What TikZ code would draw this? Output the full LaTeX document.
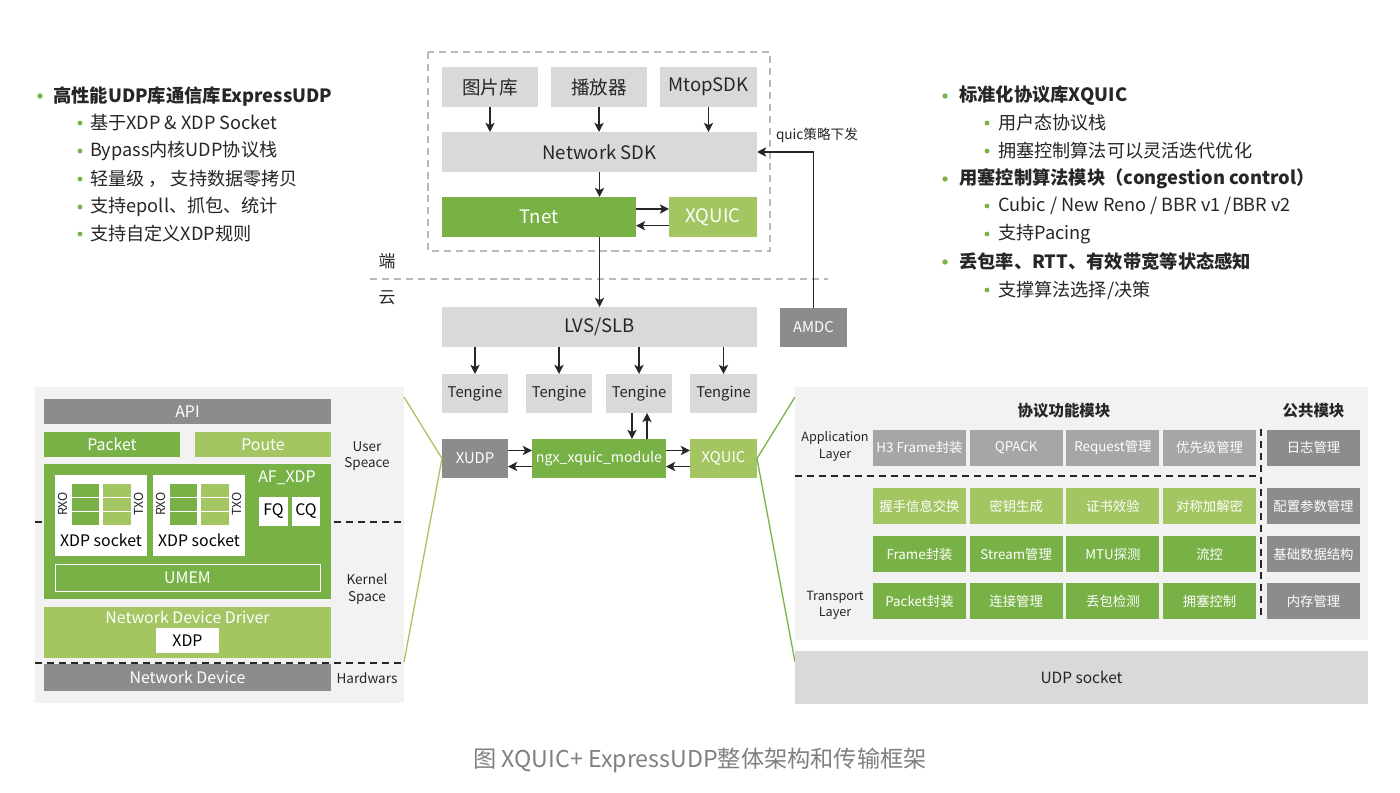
\documentclass[tikz,border=0pt]{standalone}
\usepackage{fontspec}
\setmainfont{Noto Sans CJK SC}
\usetikzlibrary{arrows.meta, positioning, calc}
\definecolor{boxgray}{HTML}{D9D9D9}
\definecolor{graydk}{HTML}{8C8C8C}
\definecolor{graymd}{HTML}{A6A6A6}
\definecolor{panelbg}{HTML}{F2F2F2}
\definecolor{xgreen}{HTML}{78B145}
\definecolor{xgreenlt}{HTML}{A3C662}
\definecolor{txtdark}{HTML}{262626}
\definecolor{capgray}{HTML}{808080}
\tikzset{
  cell/.style={
    rectangle, inner sep=0pt, outer sep=0pt,
    text centered, fill=#1, text=txtdark
  },
  sz/.style 2 args={minimum width=#1*0.025cm, minimum height=#2*0.025cm},
  bigtxt/.style={font=\fontsize{13.2}{15}\selectfont},
  midtxt/.style={font=\fontsize{10.5}{12}\selectfont},
  paneltxt/.style={font=\fontsize{11.3}{13}\selectfont},
  celltxt/.style={font=\fontsize{9.5}{11}\selectfont, text=white},
  sidetxt/.style={font=\fontsize{9.6}{11.8}\selectfont, text=txtdark, align=center},
  arr/.style={-{Stealth[length=6.5pt, width=6.5pt, inset=1.6pt]},
    line width=1.1pt, draw=txtdark},
  blackdash/.style={line width=1pt, draw=txtdark, dash pattern=on 5pt off 3.5pt},
  graydash/.style={line width=0.8pt, draw=black!28, dash pattern=on 5pt off 3.5pt},
  mainitem/.style={anchor=west, inner sep=0pt, text=txtdark,
    font=\bfseries\fontsize{13}{16}\selectfont},
  subitem/.style={anchor=west, inner sep=0pt, text=txtdark,
    font=\fontsize{12.9}{15}\selectfont},
}

\begin{document}
\begin{tikzpicture}[x=0.025cm, y=-0.025cm]
  \useasboundingbox[fill=white] (0,0) rectangle (1400,793);

  % bullet texts, left
  \node[mainitem] (l0) at (53,96) {高性能UDP库通信库ExpressUDP};
  \node[subitem] (l1) at (90,123) {基于XDP \& XDP Socket};
  \node[subitem] (l2) at (90,151) {Bypass内核UDP协议栈};
  \node[subitem] (l3) at (90,179) {轻量级 ， 支持数据零拷贝};
  \node[subitem] (l4) at (90,207) {支持epoll、抓包、统计};
  \node[subitem] (l5) at (90,234) {支持自定义XDP规则};
  \fill[xgreen] (40,96) circle (1.9pt);
  \foreach \yy in {123,151,179,207,234}
    \fill[xgreen] (80,\yy) circle (1.7pt);

  % bullet texts, right
  \node[mainitem] (r0) at (959,96) {标准化协议库XQUIC};
  \node[subitem] (r1) at (998,123) {用户态协议栈};
  \node[subitem] (r2) at (998,151) {拥塞控制算法可以灵活迭代优化};
  \node[mainitem] (r3) at (959,179) {用塞控制算法模块（congestion control）};
  \node[subitem] (r4) at (998,206) {Cubic / New Reno / BBR v1 /BBR v2};
  \node[subitem] (r5) at (998,234) {支持Pacing};
  \node[mainitem] (r6) at (959,262) {丢包率、RTT、有效带宽等状态感知};
  \node[subitem] (r7) at (998,290) {支撑算法选择/决策};
  \foreach \yy in {96,179,262}
    \fill[xgreen] (945,\yy) circle (1.9pt);
  \foreach \yy in {123,151,206,234,290}
    \fill[xgreen] (987,\yy) circle (1.7pt);

  % client
  \draw[graydash] (428,52) rectangle (770,251);
  \node[cell=boxgray, sz={96}{40}, bigtxt] (tuku) at (490,87) {图片库};
  \node[cell=boxgray, sz={96}{40}, bigtxt] (player) at (599,87) {播放器};
  \node[cell=boxgray, sz={97}{40}, bigtxt] (mtop) at (708.5,87) {MtopSDK};
  \node[cell=boxgray, sz={315}{40}, bigtxt] (netsdk) at (599.5,152) {Network SDK};
  \node[cell=xgreen, sz={194}{40}, bigtxt, text=white] (tnet) at (539,217) {Tnet};
  \node[cell=xgreenlt, sz={88}{40}, bigtxt, text=white] (cxq) at (713,217) {XQUIC};
  \foreach \n in {tuku, player, mtop}
    \draw[arr] (\n.south) -- (\n.south |- netsdk.north);
  \draw[arr] (netsdk.south) -- (netsdk.south |- tnet.north);
  \draw[arr] ([yshift=5.7pt]tnet.east) -- ([yshift=5.7pt]cxq.west);
  \draw[arr] ([yshift=-6.2pt]cxq.west) -- ([yshift=-6.2pt]tnet.east);

  % client / cloud border
  \draw[graydash] (370,279) -- (828,279);
  \node[font=\fontsize{12}{14}\selectfont, text=txtdark] (duan) at (387,261) {端};
  \node[font=\fontsize{12}{14}\selectfont, text=txtdark] (yun) at (387,298) {云};

  % cloud
  \node[cell=boxgray, sz={315}{40}, bigtxt] (lvs) at (599.5,327) {LVS/SLB};
  \node[cell=graydk, sz={67}{39}, midtxt, text=white] (amdc) at (813.5,327.5) {AMDC};
  \draw[arr] (tnet.south -| lvs.north) -- (lvs.north);
  \draw[arr] (amdc.north) |- (netsdk.east);
  \node[font=\fontsize{9.7}{11}\selectfont, text=txtdark] (policy) at (817,135) {quic策略下发};

  \node[cell=boxgray, sz={66}{39}, midtxt] (teng1) at (475,393.5) {Tengine};
  \node[cell=boxgray, sz={66}{39}, midtxt] (teng2) at (559,393.5) {Tengine};
  \node[cell=boxgray, sz={66}{39}, midtxt] (teng3) at (639,393.5) {Tengine};
  \node[cell=boxgray, sz={67}{39}, midtxt] (teng4) at (723.5,393.5) {Tengine};
  \foreach \n in {teng1, teng2, teng3, teng4}
    \draw[arr] (\n.north |- lvs.south) -- (\n.north);

  \node[cell=graydk, sz={66}{39}, midtxt, text=white] (xudp) at (475,458.5) {XUDP};
  \node[cell=xgreen, sz={134}{39}, font=\fontsize{10.1}{12}\selectfont, text=white] (ngx) at (599,458.5) {ngx\_xquic\_module};
  \node[cell=xgreenlt, sz={67}{39}, midtxt, text=white] (sxq) at (723.5,458.5) {XQUIC};
  \draw[arr] ([yshift=5.7pt]xudp.east) -- ([yshift=5.7pt]ngx.west);
  \draw[arr] ([yshift=-5.7pt]ngx.west) -- ([yshift=-5.7pt]xudp.east);
  \draw[arr] ([yshift=5.7pt]ngx.east) -- ([yshift=5.7pt]sxq.west);
  \draw[arr] ([yshift=-5.7pt]sxq.west) -- ([yshift=-5.7pt]ngx.east);
  \draw[arr] ([xshift=-5pt]teng3.south) -- ([xshift=-5pt]teng3.south |- ngx.north);
  \draw[arr] ([xshift=5.7pt]teng3.south |- ngx.north) -- ([xshift=5.7pt]teng3.south);

  % ExpressUDP panel
  \node[cell=panelbg, sz={369}{316}] (lpanel) at (219.5,545) {};
  \draw[blackdash] (35,522) -- (404,522);
  \draw[blackdash] (35,663) -- (404,663);
  \node[cell=graydk, sz={287}{25}, paneltxt, text=white] (api) at (187.5,411.5) {API};
  \node[cell=xgreen, sz={136}{25}, paneltxt, text=white] (packet) at (112,444.5) {Packet};
  \node[cell=xgreenlt, sz={136}{25}, paneltxt, text=white] (poute) at (263,444.5) {Poute};
  \node[cell=xgreen, sz={287}{135}] (afxdp) at (187.5,531.5) {};
  \node[paneltxt, text=white] (afxdpt) at (287,478) {AF\_XDP};
  \node[cell=white, sz={92}{81}] (sock1) at (101,515.5) {};
  \node[cell=white, sz={92}{81}] (sock2) at (199,515.5) {};
  \foreach \dx in {0,98} {
    \foreach \yy in {484,498,512} {
      \fill[xgreen] (72+\dx,\yy) rectangle (99+\dx,\yy+13);
      \fill[xgreenlt] (103+\dx,\yy) rectangle (131+\dx,\yy+13);
    }
    \node[rotate=90, font=\fontsize{8.8}{10}\selectfont, text=txtdark] at (63+\dx,504) {RXO};
    \node[rotate=90, font=\fontsize{8.8}{10}\selectfont, text=txtdark] at (139+\dx,504) {TXO};
  }
  \node[paneltxt, text=black] (sock1t) at (101,540) {XDP socket};
  \node[paneltxt, text=black] (sock2t) at (199,540) {XDP socket};
  \node[cell=white, sz={29}{29}, paneltxt, text=black] (fq) at (273.5,511.5) {FQ};
  \node[cell=white, sz={28}{29}, paneltxt, text=black] (cq) at (306,511.5) {CQ};
  \node[cell=xgreen, sz={265}{27}, paneltxt, text=white, draw=white, line width=0.7pt] (umem) at (187.5,577.5) {UMEM};
  \node[cell=xgreenlt, sz={287}{51}] (driver) at (187.5,632.5) {};
  \node[paneltxt, text=white] (drivert) at (187.5,617) {Network Device Driver};
  \node[cell=white, sz={63}{25}, paneltxt, text=black] (xdp) at (187.5,640.5) {XDP};
  \node[cell=graydk, sz={287}{27}, paneltxt, text=white] (netdev) at (187.5,677.5) {Network Device};
  \node[sidetxt] (userlbl) at (367,456) {User\\Speace};
  \node[sidetxt] (kernlbl) at (367,589) {Kernel\\Space};
  \node[sidetxt] (hwlbl) at (367,678) {Hardwars};

  % zoom lines
  \coordinate (lzt) at (404,397);
  \coordinate (lzb) at (404,662);
  \coordinate (rzt) at (795,397);
  \coordinate (rzb) at (795,662);
  \draw[xgreenlt, line width=0.9pt] (lzt) -- (xudp.west) -- (lzb);
  \draw[xgreen, line width=0.9pt] (rzt) -- (sxq.east) -- (rzb);

  % XQUIC panel
  \node[cell=panelbg, sz={573}{253}] (rpanel) at (1081.5,513.5) {};
  \node[cell=boxgray, sz={573}{53}, font=\fontsize{11}{13}\selectfont] (udp) at (1081.5,677) {UDP socket};
  \node[font=\bfseries\fontsize{11}{13}\selectfont, text=txtdark] (proto) at (1064,411) {协议功能模块};
  \node[font=\bfseries\fontsize{11}{13}\selectfont, text=txtdark] (common) at (1313.5,411) {公共模块};
  \node[sidetxt, font=\fontsize{9}{11.5}\selectfont] (applbl) at (835,446.5) {Application\\Layer};
  \node[sidetxt, font=\fontsize{9}{11.5}\selectfont] (trlbl) at (835,605) {Transport\\Layer};
  \draw[blackdash] (795,476) -- (1261,476);
  \draw[blackdash] (1261,429) -- (1261,620);
  \foreach \t [count=\i] in {H3 Frame封装, QPACK, Request管理, 优先级管理}
    \node[cell=graymd, sz={93}{36}, celltxt] (a\i) at (822.8+96.7*\i,447.5) {\t};
  \foreach \t [count=\i] in {握手信息交换, 密钥生成, 证书效验, 对称加解密}
    \node[cell=xgreenlt, sz={93}{36}, celltxt] (b\i) at (822.8+96.7*\i,506) {\t};
  \foreach \t [count=\i] in {Frame封装, Stream管理, MTU探测, 流控}
    \node[cell=xgreen, sz={93}{36}, celltxt] (c\i) at (822.8+96.7*\i,554) {\t};
  \foreach \t [count=\i] in {Packet封装, 连接管理, 丢包检测, 拥塞控制}
    \node[cell=xgreen, sz={93}{36}, celltxt] (d\i) at (822.8+96.7*\i,601) {\t};
  \foreach \t/\yy [count=\i] in {日志管理/447.5, 配置参数管理/506, 基础数据结构/554, 内存管理/601}
    \node[cell=graydk, sz={93}{36}, celltxt] (g\i) at (1313.5,\yy) {\t};

  % caption
  \node[font=\fontsize{16.5}{19}\selectfont, text=capgray] (caption) at (700,760)
    {图 XQUIC+ ExpressUDP整体架构和传输框架};
\end{tikzpicture}
\end{document}
